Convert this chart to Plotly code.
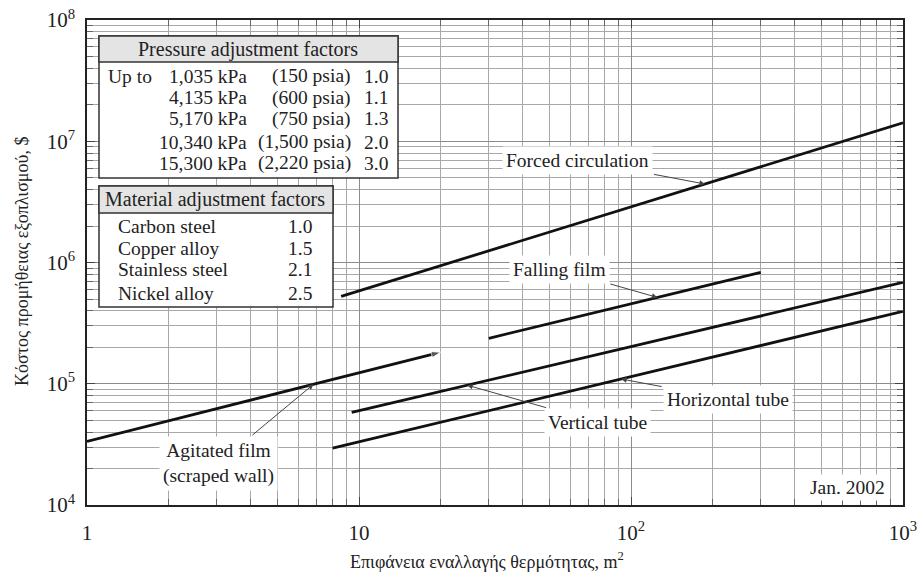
import numpy as np
import plotly.graph_objects as go

# ---------------- data ----------------
forced_x = [8.6, 1000]
forced_y = [5.25e5, 1.42e7]
falling_x = [30, 300]
falling_y = [2.37e5, 8.3e5]
agitated_x = [1, 20]
agitated_y = [3.35e4, 1.82e5]
vertical_x = [9.4, 1000]
vertical_y = [5.8e4, 6.85e5]
horizontal_x = [8, 1000]
horizontal_y = [2.94e4, 3.95e5]

x_tickvals = [1, 10, 100, 1000]
x_ticktext = ["1", "10", "10<sup>2</sup>", "10<sup>3</sup>"]
y_tickvals = [1e4, 1e5, 1e6, 1e7, 1e8]
y_ticktext = ["10<sup>4</sup>", "10<sup>5</sup>", "10<sup>6</sup>", "10<sup>7</sup>", "10<sup>8</sup>"]

pressure_kpa = ["1,035 kPa", "4,135 kPa", "5,170 kPa", "10,340 kPa", "15,300 kPa"]
pressure_psia = ["(150 psia)", "(600 psia)", "(750 psia)", "(1,500 psia)", "(2,220 psia)"]
pressure_factor = ["1.0", "1.1", "1.3", "2.0", "3.0"]
materials = ["Carbon steel", "Copper alloy", "Stainless steel", "Nickel alloy"]
material_factor = ["1.0", "1.5", "2.1", "2.5"]

# label name, x of arrow tip on the line
labels = {
    "Forced circulation": 187,
    "Falling film": 125,
    "Horizontal tube": 92,
    "Vertical tube": 25,
    "Agitated film<br>(scraped wall)": 6.8,
}

# ---------------- layout geometry ----------------
W, H = 917, 573
ML, MR, MT, MB = 87, 14, 20, 68
PW, PH = W - ML - MR, H - MT - MB


def px(x):
    return (x - ML) / PW


def py(y):
    return 1 - (y - MT) / PH


FONT = "Liberation Serif, Times New Roman, serif"
TXT = "#222222"

fig = go.Figure()

series = [
    ("Forced circulation", forced_x, forced_y),
    ("Falling film", falling_x, falling_y),
    ("Vertical tube", vertical_x, vertical_y),
    ("Horizontal tube", horizontal_x, horizontal_y),
]
for name, xs, ys in series:
    fig.add_trace(go.Scatter(x=xs, y=ys, mode="lines", name=name,
                             line=dict(color="#111111", width=2.8), showlegend=False))

fig.add_trace(go.Scatter(x=agitated_x, y=agitated_y, mode="lines+markers", name="Agitated film",
                         line=dict(color="#111111", width=2.8),
                         marker=dict(symbol=["circle", "arrow"], size=[0, 10], angleref="previous",
                                     color="#111111"),
                         showlegend=False))

minor_x = [m * 10 ** d for d in range(0, 3) for m in range(2, 10)]
minor_y = [m * 10 ** d for d in range(4, 8) for m in range(2, 10)]

fig.update_xaxes(type="log", range=[0, 3], tickvals=x_tickvals, ticktext=x_ticktext,
                 showgrid=True, gridcolor="#8c8c8c", gridwidth=1,
                 ticks="inside", ticklen=8, tickcolor="#444", mirror="allticks",
                 showline=True, linecolor="#222", linewidth=1.5,
                 minor=dict(tickvals=minor_x, showgrid=True, gridcolor="#a8a8a8", gridwidth=1,
                            ticks="inside", ticklen=6, tickcolor="#666"),
                 tickfont=dict(family=FONT, size=21, color=TXT), ticklabelstandoff=8,
                 ticklabeloverflow="allow", automargin=False, zeroline=False)
fig.update_yaxes(type="log", range=[4, 8], tickvals=y_tickvals, ticktext=y_ticktext,
                 showgrid=True, gridcolor="#8c8c8c", gridwidth=1,
                 ticks="inside", ticklen=8, tickcolor="#444", mirror="allticks",
                 showline=True, linecolor="#222", linewidth=1.5,
                 minor=dict(tickvals=minor_y, showgrid=True, gridcolor="#a8a8a8", gridwidth=1,
                            ticks="inside", ticklen=6, tickcolor="#666"),
                 tickfont=dict(family=FONT, size=21, color=TXT), ticklabelstandoff=6,
                 ticklabeloverflow="allow", automargin=False, zeroline=False)

shapes = []
annotations = []

# ---- tables ----
def box(x0, y0, x1, y1, hdr_y1):
    shapes.append(dict(type="rect", xref="paper", yref="paper",
                       x0=px(x0), x1=px(x1), y0=py(y1), y1=py(y0),
                       fillcolor="white", line=dict(color="#333", width=1.5), layer="above"))
    shapes.append(dict(type="rect", xref="paper", yref="paper",
                       x0=px(x0), x1=px(x1), y0=py(hdr_y1), y1=py(y0),
                       fillcolor="#e4e4e4", line=dict(color="#333", width=1.5), layer="above"))


box(99, 36, 398, 178, 62)
box(99, 186, 333, 307, 213)


def txt(text, x, y, xanchor="left", size=19.5):
    annotations.append(dict(text=text, x=px(x), y=py(y), xref="paper", yref="paper",
                            xanchor=xanchor, yanchor="middle", showarrow=False,
                            font=dict(family=FONT, size=size, color=TXT)))


txt("Pressure adjustment factors", 248, 49, "center", 20)
row_y = [76, 98, 119, 142, 163]
txt("Up to", 106, row_y[0])
for i, yy in enumerate(row_y):
    txt(pressure_kpa[i], 249, yy, "right")
    txt(pressure_psia[i], 353, yy, "right")
    txt(pressure_factor[i], 362, yy, "left")

txt("Material adjustment factors", 215, 199, "center", 20)
mrow_y = [226, 248, 269, 293]
for i, yy in enumerate(mrow_y):
    txt(materials[i], 116, yy, "left")
    txt(material_factor[i], 314, yy, "right")

# ---- curve labels with arrows ----
all_series = {
    "Forced circulation": (forced_x, forced_y),
    "Falling film": (falling_x, falling_y),
    "Horizontal tube": (horizontal_x, horizontal_y),
    "Vertical tube": (vertical_x, vertical_y),
    "Agitated film<br>(scraped wall)": (agitated_x, agitated_y),
}
offsets = {
    "Forced circulation": (-127, -24),
    "Falling film": (-98, -28),
    "Horizontal tube": (107, 20),
    "Vertical tube": (130, 37),
    "Agitated film<br>(scraped wall)": (-95, 79),
}
for name, tipx in labels.items():
    xs, ys = all_series[name]
    lx = np.log10(tipx)
    ly = float(np.interp(lx, np.log10(xs), np.log10(ys)))
    ax, ay = offsets[name]
    annotations.append(dict(text=name, x=lx, y=ly, xref="x", yref="y",
                            ax=ax, ay=ay, axref="pixel", ayref="pixel",
                            showarrow=True, arrowhead=2, arrowsize=1.1, arrowwidth=1,
                            arrowcolor="#444", standoff=0, startstandoff=2,
                            bgcolor="white", borderpad=3,
                            font=dict(family=FONT, size=19.5, color=TXT)))

annotations.append(dict(text="Jan. 2002", x=px(847), y=py(487), xref="paper", yref="paper",
                        xanchor="center", yanchor="middle", showarrow=False, bgcolor="white",
                        borderpad=2, font=dict(family=FONT, size=19.5, color=TXT)))

# axis titles
annotations.append(dict(text="Επιφάνεια εναλλαγής θερμότητας, m<sup>2</sup>",
                        x=px(487), y=py(560), xref="paper", yref="paper",
                        xanchor="center", yanchor="middle", showarrow=False,
                        font=dict(family=FONT, size=18, color=TXT)))
annotations.append(dict(text="Κόστος προμήθειας εξοπλισμού, $",
                        x=px(22), y=py(262), xref="paper", yref="paper",
                        xanchor="center", yanchor="middle", showarrow=False, textangle=-90,
                        font=dict(family=FONT, size=18, color=TXT)))

fig.update_layout(width=W, height=H, margin=dict(l=ML, r=MR, t=MT, b=MB, autoexpand=False),
                  plot_bgcolor="white", paper_bgcolor="white",
                  shapes=shapes, annotations=annotations, showlegend=False)

fig.write_html("out.html")
